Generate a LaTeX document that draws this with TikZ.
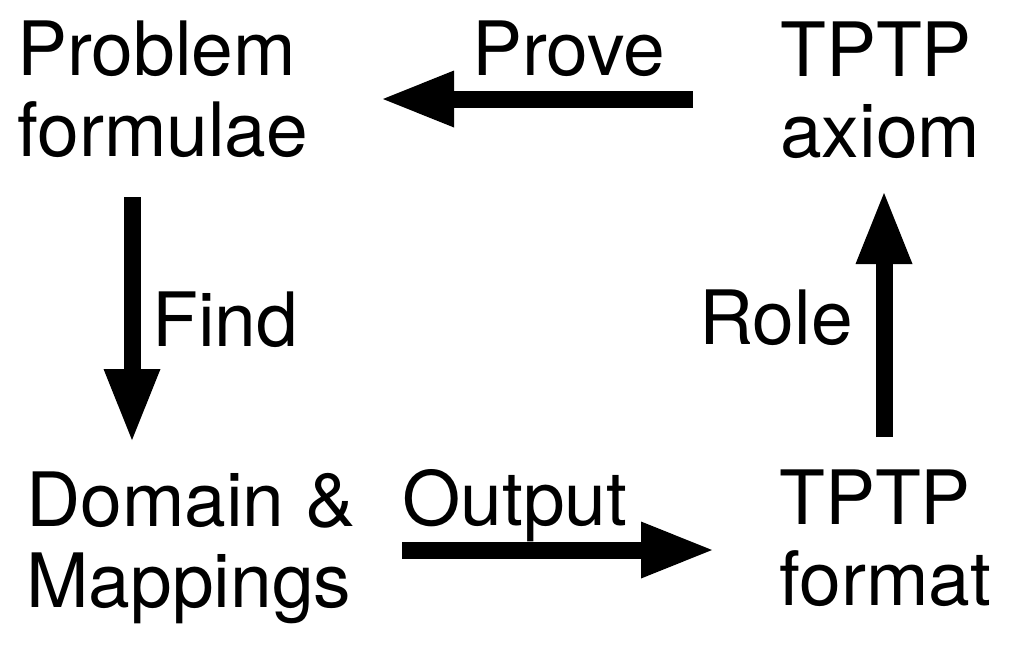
\documentclass[tikz,border=0pt]{standalone}
\usepackage{fontspec}
\setmainfont{TeX Gyre Heros}
\usetikzlibrary{arrows.meta}
\newcommand{\twoln}[2]{\vtop{\baselineskip=81pt\hbox{#1}\hbox{#2}}}
\begin{document}
\begin{tikzpicture}[x=1pt,y=-1pt,
  txt/.style={anchor=base west,inner sep=0pt,font=\fontsize{75}{81}\selectfont},
  bigarrow/.style={line width=17pt,-{Triangle[length=71pt,width=57pt,line width=0pt]}}]
\useasboundingbox (0,0) rectangle (1013,646);
% blocks
\node[txt] (prob) at (17,75) {\twoln{Problem}{formulae}};
\node[txt] (axiom) at (780,76) {\twoln{TPTP}{axiom}};
\node[txt] (dom) at (26,526) {\twoln{Domain \&}{Mappings}};
\node[txt] (fmt) at (779,524) {\twoln{TPTP}{format}};
% labels
\node[txt] (prove) at (472,75) {Prove};
\node[txt] (find) at (152,346) {Find};
\node[txt] (role) at (699,344) {Role};
\node[txt] (output) at (402,525) {Output};
% arrow ends
\coordinate (pS) at (693,99);  \coordinate (pE) at (383,99);
\coordinate (fS) at (132,197); \coordinate (fE) at (132,440);
\coordinate (oS) at (402,550); \coordinate (oE) at (712,550);
\coordinate (rS) at (884,437); \coordinate (rE) at (884,193);
\draw[bigarrow] (pS) -- (pE);
\draw[bigarrow] (fS) -- (fE);
\draw[bigarrow] (oS) -- (oE);
\draw[bigarrow] (rS) -- (rE);
\end{tikzpicture}
\end{document}
